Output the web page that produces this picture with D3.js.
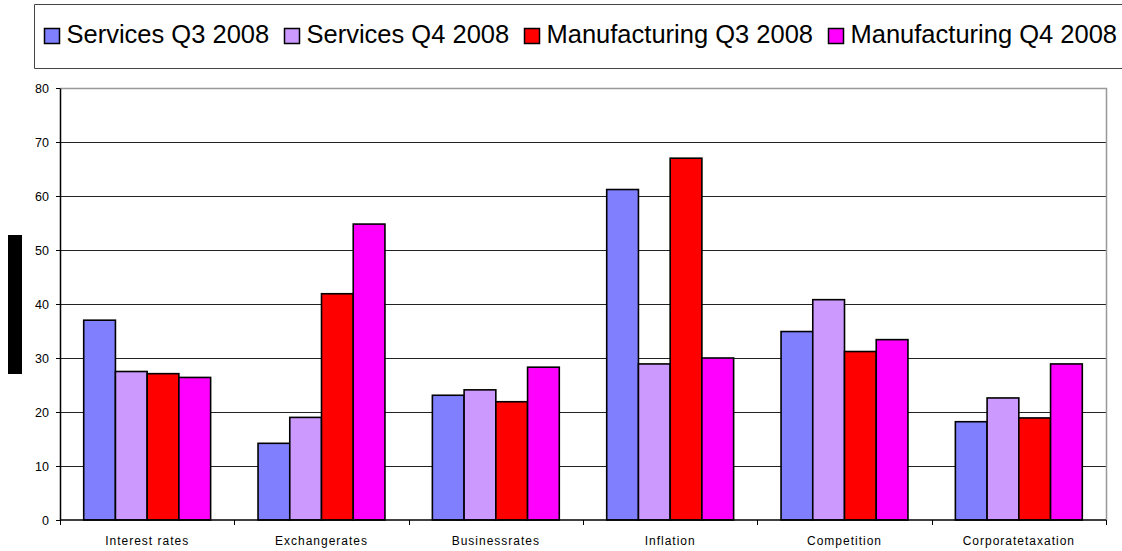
<!DOCTYPE html>
<html>
<head>
<meta charset="utf-8">
<script src="https://cdn.jsdelivr.net/npm/d3@7"></script>
<style>
  body { margin: 0; background: #fff; }
  text { font-family: "Liberation Sans", Arial, sans-serif; }
</style>
</head>
<body>
<svg id="chart" width="1122" height="551"></svg>
<script>
// data
const categories = ["Interest rates", "Exchangerates", "Businessrates", "Inflation", "Competition", "Corporatetaxation"];
const seriesNames = ["Services Q3 2008", "Services Q4 2008", "Manufacturing Q3 2008", "Manufacturing Q4 2008"];
const servicesQ3 = [37, 14.2, 23.1, 61.2, 34.9, 18.2];
const servicesQ4 = [27.5, 19, 24.1, 28.9, 40.8, 22.6];
const manufacturingQ3 = [27.1, 41.9, 21.9, 67, 31.2, 18.9];
const manufacturingQ4 = [26.4, 54.8, 28.3, 30, 33.4, 28.9];
const yTicks = [0, 10, 20, 30, 40, 50, 60, 70, 80];
const colors = ["#8080ff", "#cc99ff", "#ff0000", "#ff00ff"];

const allSeries = [servicesQ3, servicesQ4, manufacturingQ3, manufacturingQ4];

const svg = d3.select("#chart");
const margin = { top: 88, right: 16, bottom: 31, left: 60 };
const width = 1122 - margin.left - margin.right;
const height = 551 - margin.top - margin.bottom;

const x = d3.scaleBand()
  .domain(categories)
  .range([0, width])
  .paddingInner(0.272)
  .paddingOuter(0.136);

const x1 = d3.scaleBand()
  .domain(d3.range(seriesNames.length))
  .range([0, x.bandwidth()]);

const y = d3.scaleLinear()
  .domain([0, 80])
  .range([height, 0]);

const g = svg.append("g")
  .attr("transform", `translate(${margin.left},${margin.top})`);

// gridlines
g.selectAll(".grid")
  .data(yTicks.filter(d => d > 0 && d < 80))
  .join("line")
  .attr("x1", 0).attr("x2", width)
  .attr("y1", d => Math.round(y(d)) + 0.5).attr("y2", d => Math.round(y(d)) + 0.5)
  .attr("stroke", "#222")
  .attr("stroke-width", 1);

// plot area top and right border
g.append("path")
  .attr("d", `M0,0.5H${width + 0.5}V${height}`)
  .attr("fill", "none")
  .attr("stroke", "#999")
  .attr("stroke-width", 1.5);

// bars
const groups = g.selectAll(".cat")
  .data(categories)
  .join("g")
  .attr("transform", d => `translate(${x(d)},0)`);

groups.selectAll("rect")
  .data((c, i) => allSeries.map((s, k) => ({ k, v: s[i] })))
  .join("rect")
  .attr("x", d => x1(d.k))
  .attr("width", x1.bandwidth())
  .attr("y", d => y(d.v))
  .attr("height", d => y(0) - y(d.v))
  .attr("fill", d => colors[d.k])
  .attr("stroke", "#000")
  .attr("stroke-width", 1.6);

// y axis
const yAxis = g.append("g")
  .call(d3.axisLeft(y).tickValues(yTicks).tickSize(4).tickSizeOuter(0));
yAxis.select(".domain").attr("stroke", "#000").attr("stroke-width", 1.5);
yAxis.selectAll(".tick line").attr("stroke", "#000");
yAxis.selectAll(".tick text")
  .attr("x", -11)
  .attr("font-size", 12.5)
  .attr("fill", "#000");

// x axis with ticks at category boundaries
const xAxis = g.append("g")
  .attr("transform", `translate(0,${height})`);
xAxis.append("line")
  .attr("x1", 0).attr("x2", width)
  .attr("stroke", "#000").attr("stroke-width", 1.5);
const step = x.step();
xAxis.selectAll(".bound")
  .data(d3.range(categories.length + 1))
  .join("line")
  .attr("x1", i => Math.round(i * step) + 0.5)
  .attr("x2", i => Math.round(i * step) + 0.5)
  .attr("y1", 0).attr("y2", 5)
  .attr("stroke", "#000");
xAxis.selectAll(".lbl")
  .data(categories)
  .join("text")
  .attr("x", d => x(d) + x.bandwidth() / 2)
  .attr("y", 25)
  .attr("text-anchor", "middle")
  .attr("font-size", 12)
  .attr("letter-spacing", 1)
  .text(d => d);

// blacked-out axis title
svg.append("rect")
  .attr("x", 8).attr("y", 235)
  .attr("width", 14).attr("height", 139)
  .attr("fill", "#000");

// legend
const legend = svg.append("g");
legend.append("path")
  .attr("d", "M1122,4.5H34.5V68.5H1122")
  .attr("fill", "#fff")
  .attr("stroke", "#444")
  .attr("stroke-width", 1);

const legendX = [44.5, 284.5, 524.5, 828.5];
const items = legend.selectAll(".item")
  .data(seriesNames)
  .join("g")
  .attr("transform", (d, i) => `translate(${legendX[i]},0)`);
items.append("rect")
  .attr("x", 0).attr("y", 28.5)
  .attr("width", 15).attr("height", 15)
  .attr("fill", (d, i) => colors[i])
  .attr("stroke", "#000")
  .attr("stroke-width", 1.5);
items.append("text")
  .attr("x", 22)
  .attr("y", 43)
  .attr("font-size", 25.5)
  .attr("fill", "#000")
  .text(d => d);
</script>
</body>
</html>
